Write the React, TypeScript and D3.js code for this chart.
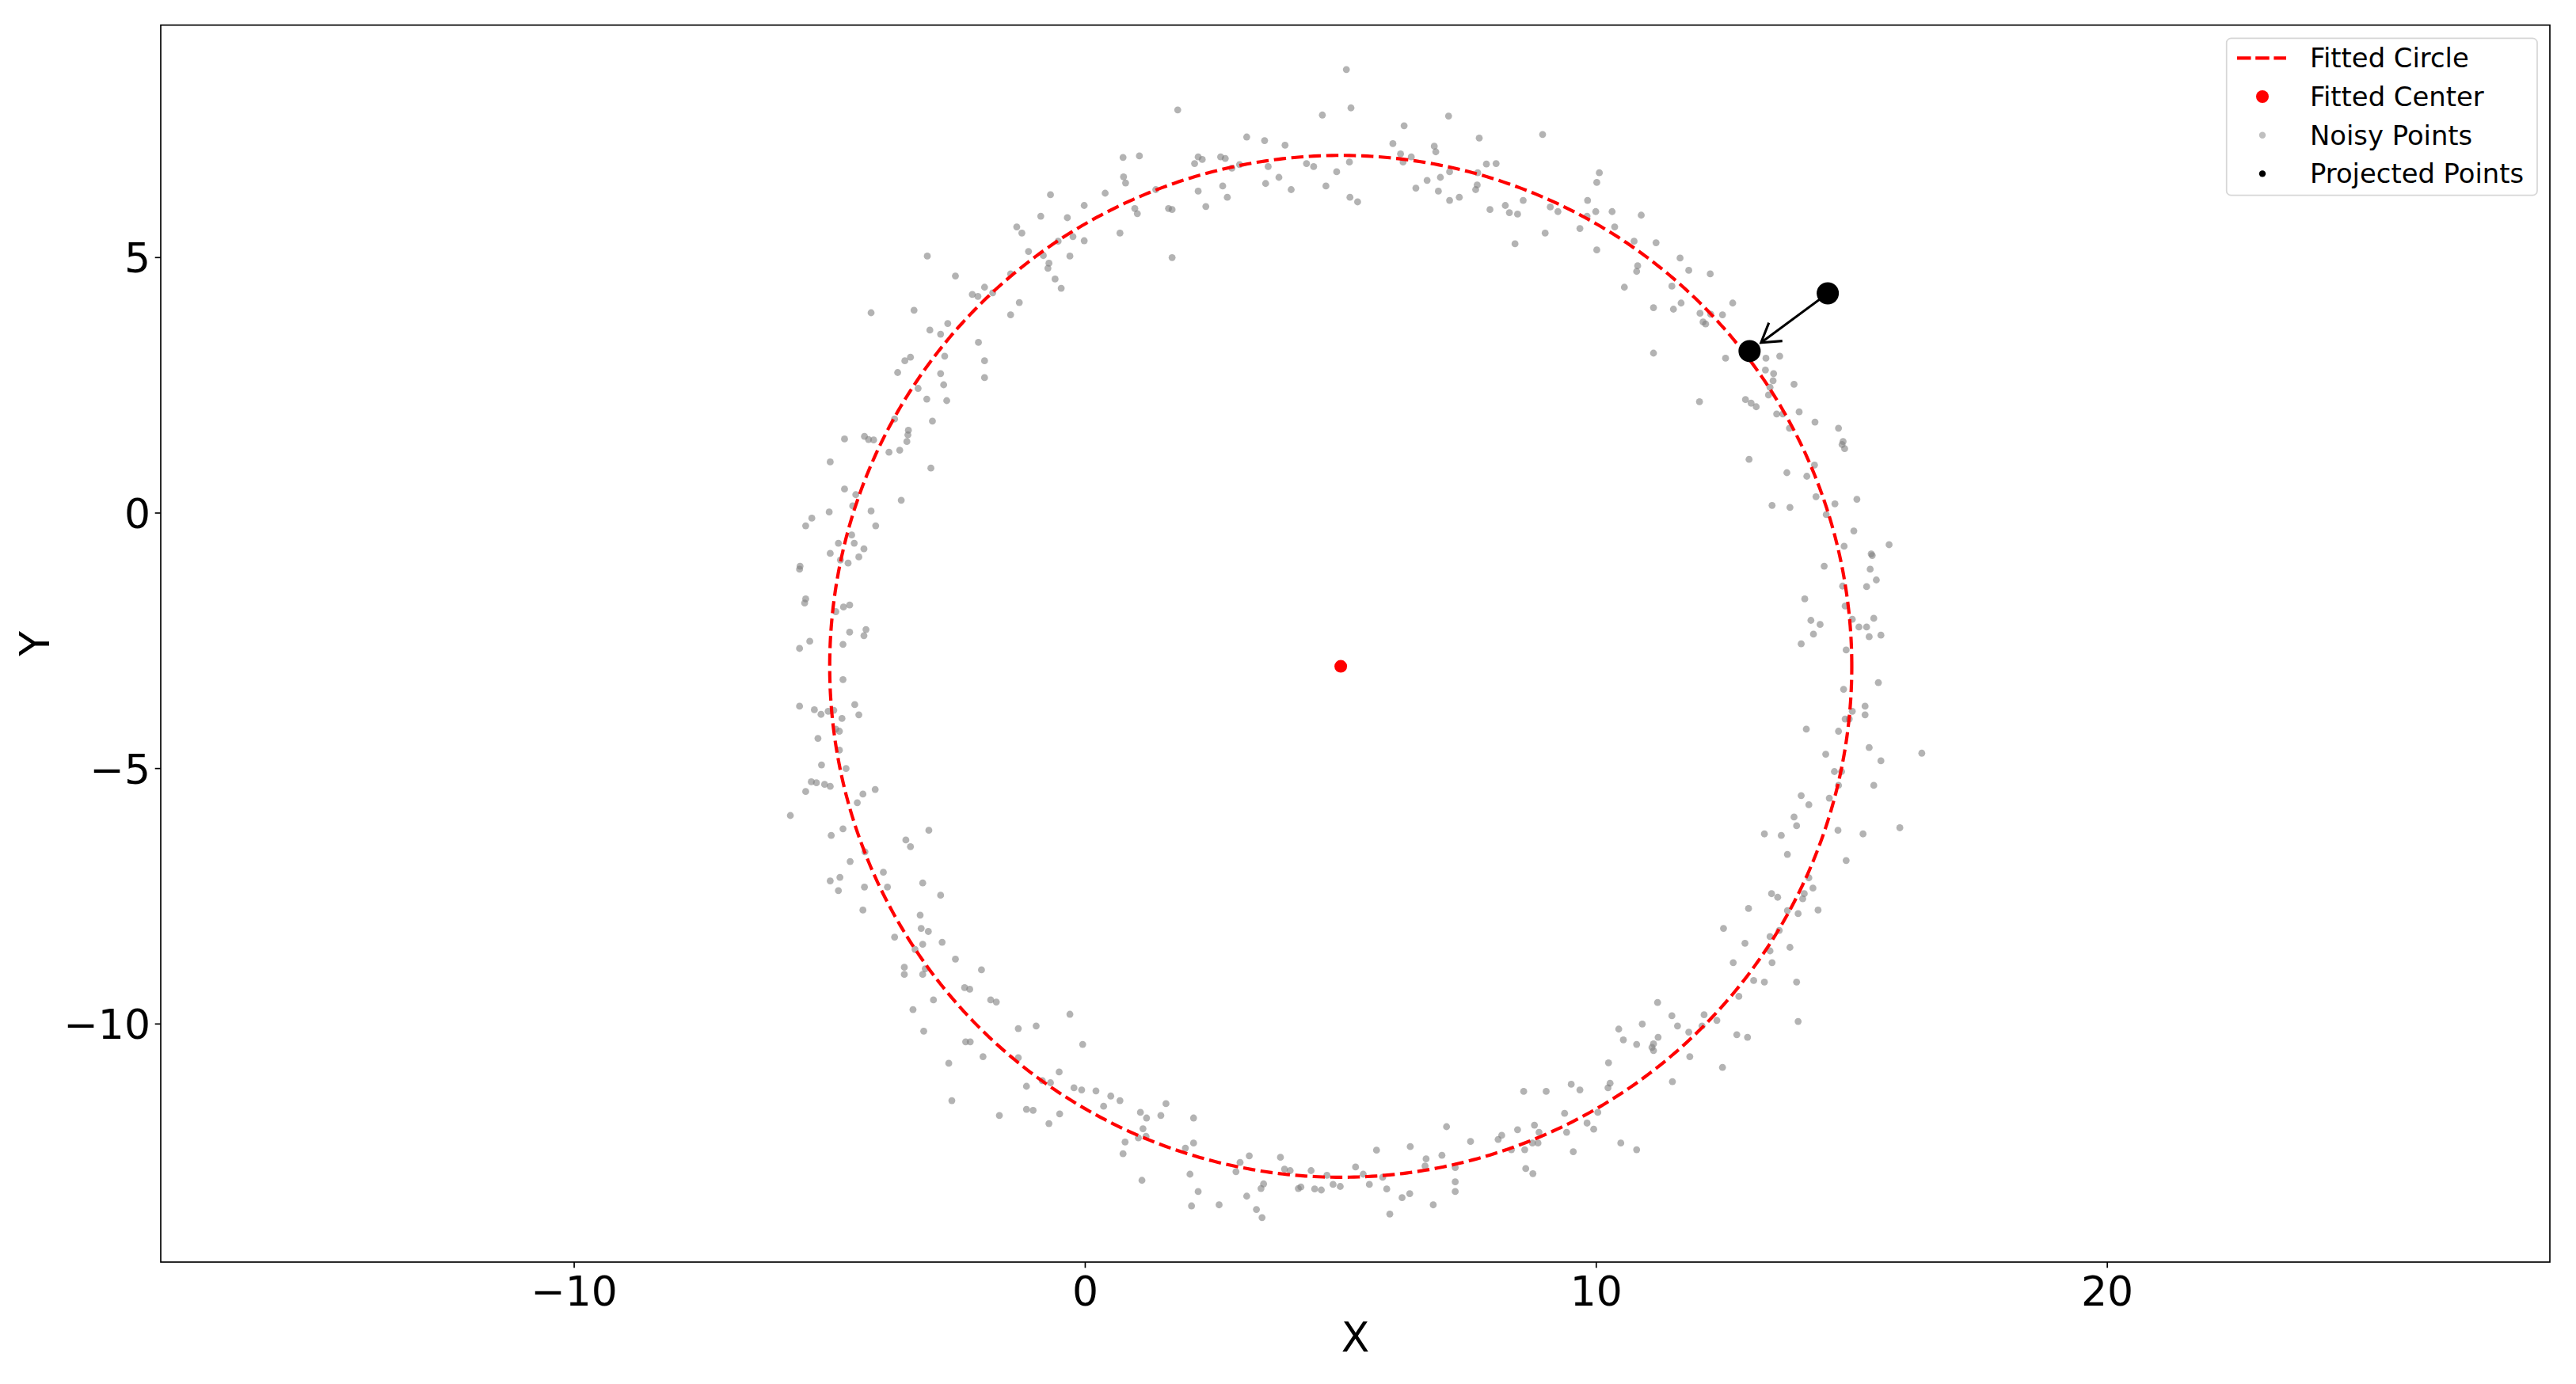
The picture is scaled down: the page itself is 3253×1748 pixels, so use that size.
import React from 'react';
import * as d3 from 'd3';

// ---------------- data ----------------
const xDomain = [-18.09, 28.66];
const yDomain = [-14.66, 9.55];
const xTicks = [-10, 0, 10, 20];
const yTicks = [-10, -5, 0, 5];
const xLabel = 'X';
const yLabel = 'Y';
const legendLabels = ['Fitted Circle', 'Fitted Center', 'Noisy Points', 'Projected Points'];

const fittedCenter = [5.0, -3.0];
const fittedRadius = 10.0;
const outlierPoint = [14.53, 4.3];
const projectedPoint = [13.0, 3.17];

const noisyUpperLeft = [
  [4.64,7.79],[1.81,7.89],[3.16,7.36],[3.51,7.29],[3.91,7.2],[0.74,6.96],[1.06,6.99],[2.21,6.97],[2.29,6.92],[2.14,6.84],[2.65,6.97],[2.74,6.94],[2.87,6.75],[3.02,6.82],[3.58,6.78],[4.33,6.84],[4.47,6.78],[4.92,6.68],[3.79,6.57],[3.53,6.45],[4.03,6.33],[4.71,6.4],[0.75,6.58],[0.79,6.46],[0.39,6.26],[-0.68,6.23],[1.38,6.33],[2.21,6.3],[2.69,6.4],[2.78,6.18],[2.36,6.0],[0.97,5.96],[1.02,5.86],[1.63,5.96],[1.7,5.94],[-0.02,6.02],[-0.35,5.78],[-0.87,5.81],[-1.34,5.6],[-1.24,5.48],[-0.24,5.41],[-0.02,5.33],[0.68,5.48],[-0.53,5.32],[1.7,5.0],[-1.11,5.12],[-0.82,5.04],[-0.3,5.03],[-0.71,4.89],[-0.73,4.79],[-0.59,4.58],[-0.47,4.4],[-1.46,4.68],[-3.09,5.03],[-2.54,4.64],[-1.97,4.42],[-2.21,4.28],[-2.1,4.24],[-1.81,4.31],[-1.29,4.12],[-1.46,3.88],[-4.19,3.92],[-3.35,3.97],[-2.69,3.71],[-3.04,3.58],[-2.83,3.5],[-2.09,3.34],[-2.75,3.07],[-3.42,3.05],[-3.53,2.98],[-1.97,2.98],[-3.67,2.75],[-2.83,2.73],[-1.97,2.65],[-2.77,2.51],[-3.27,2.44],[-3.1,2.23],[-2.71,2.2],[-2.99,1.8],[-3.73,1.84],[-3.46,1.62],[-3.47,1.53],[-3.49,1.4],[-4.32,1.5],[-4.24,1.44],[-4.14,1.43],[-4.71,1.45],[-3.84,1.19],[-3.63,1.23],[-3.02,0.88],[-4.99,1.0],[-4.71,0.47],[-4.49,0.36],[-3.6,0.25],[-4.55,0.14],[-4.19,0.04],[-5.01,0.02],[-5.35,-0.1],[-5.47,-0.25],[-4.1,-0.25],[-4.57,-0.43],[-4.83,-0.59],[-4.52,-0.59],[-4.33,-0.7],[-4.99,-0.79],[-4.43,-0.86],[-4.79,-0.92],[-4.64,-0.98],[-5.58,-1.04],[-5.59,-1.1],[-5.47,-1.68],[-5.49,-1.76],[-4.61,-1.8],[-4.73,-1.84],[-4.88,-1.93]
];

const noisyUpperRight = [
  [5.11,8.68],[5.2,7.93],[7.11,7.77],[6.24,7.58],[7.71,7.34],[8.95,7.41],[6.02,7.23],[6.83,7.18],[6.86,7.07],[6.17,7.03],[6.38,6.97],[5.17,6.87],[6.22,6.87],[7.85,6.83],[8.04,6.84],[7.13,6.68],[7.68,6.66],[10.06,6.66],[6.95,6.57],[6.69,6.51],[10.01,6.47],[7.67,6.42],[7.64,6.33],[6.47,6.36],[6.91,6.3],[5.18,6.18],[5.33,6.09],[7.13,6.12],[7.32,6.18],[9.83,6.12],[8.57,6.12],[8.22,6.02],[7.92,5.94],[8.3,5.88],[8.46,5.85],[9.1,5.99],[9.25,5.9],[9.99,5.9],[10.31,5.9],[9.82,5.81],[10.88,5.83],[10.36,5.6],[9.68,5.57],[9.0,5.48],[8.41,5.27],[10.74,5.32],[11.17,5.29],[10.01,5.15],[11.64,4.99],[11.81,4.75],[12.23,4.68],[10.81,4.84],[10.79,4.73],[11.48,4.44],[10.55,4.42],[11.12,4.02],[11.51,3.99],[11.66,4.11],[12.67,4.11],[12.03,3.91],[12.24,3.89],[12.47,3.88],[12.09,3.74],[12.14,3.7],[11.12,3.13],[12.53,3.03],[13.32,3.03],[13.59,3.07],[13.31,2.8],[13.47,2.73],[13.46,2.59],[13.4,2.46],[13.87,2.52],[13.37,2.31],[12.02,2.18],[12.92,2.22],[13.03,2.15],[13.13,2.08],[13.53,1.94],[13.65,1.94],[13.97,1.98],[14.28,1.78],[14.74,1.66],[14.83,1.4],[14.81,1.34],[14.86,1.26],[13.78,1.66],[12.99,1.05],[14.27,0.94],[13.73,0.79],[14.12,0.72],[14.3,0.32],[15.1,0.27],[14.67,0.18],[13.44,0.15],[13.79,0.11],[14.5,-0.03],[15.04,-0.35],[14.85,-0.65],[15.73,-0.62],[15.38,-0.8],[15.4,-0.83],[15.36,-1.1],[14.46,-1.04],[15.48,-1.31],[15.29,-1.44],[14.82,-1.43],[14.08,-1.68],[14.87,-1.82],[15.01,-2.08],[14.2,-2.1],[14.38,-2.18],[15.43,-2.06]
];

const noisyLowerLeft = [
  [-4.61,-2.33],[-4.29,-2.28],[-4.33,-2.4],[-5.39,-2.51],[-5.59,-2.65],[-4.74,-2.57],[-4.74,-3.26],[-5.59,-3.78],[-5.3,-3.85],[-5.17,-3.94],[-5.03,-3.88],[-4.92,-3.86],[-4.51,-3.75],[-4.43,-3.95],[-4.76,-4.02],[-4.88,-4.23],[-4.81,-4.27],[-5.23,-4.41],[-4.81,-4.64],[-5.16,-4.93],[-4.68,-5.0],[-5.36,-5.26],[-5.26,-5.28],[-5.1,-5.31],[-4.99,-5.35],[-5.47,-5.45],[-4.35,-5.5],[-4.11,-5.41],[-4.46,-5.67],[-5.77,-5.92],[-4.74,-6.18],[-4.97,-6.31],[-3.06,-6.21],[-3.51,-6.4],[-3.42,-6.53],[-4.31,-6.63],[-4.6,-6.82],[-3.95,-7.03],[-4.99,-7.2],[-4.8,-7.13],[-4.83,-7.39],[-4.32,-7.32],[-3.87,-7.32],[-3.18,-7.24],[-2.83,-7.48],[-4.35,-7.77],[-3.23,-7.87],[-3.21,-8.13],[-3.07,-8.19],[-3.73,-8.3],[-3.18,-8.44],[-2.8,-8.4],[-3.33,-8.54],[-2.54,-8.73],[-2.03,-8.94],[-3.54,-8.89],[-3.54,-9.03],[-3.13,-8.92],[-3.18,-9.03],[-2.36,-9.29],[-2.26,-9.32],[-1.85,-9.53],[-1.74,-9.57],[-2.97,-9.53],[-3.37,-9.72],[-3.16,-10.14],[-1.31,-10.09],[-0.96,-10.04],[-0.3,-9.81],[-2.34,-10.35],[-2.25,-10.35],[-0.05,-10.4],[-2.0,-10.64],[-1.31,-10.66],[-2.67,-10.77],[-0.51,-10.94],[-0.84,-11.11],[-0.68,-11.15],[-1.15,-11.22],[-0.22,-11.25],[-0.07,-11.29],[0.21,-11.31],[0.5,-11.41],[0.68,-11.5],[-2.61,-11.5],[1.58,-11.56],[-1.68,-11.79],[-1.15,-11.67],[-1.02,-11.69],[-0.5,-11.76],[-0.71,-11.95],[0.36,-11.61],[1.08,-11.73],[1.2,-11.84],[1.48,-11.79],[2.12,-11.84],[1.13,-12.05],[1.04,-12.23],[1.19,-12.2],[0.78,-12.31],[0.74,-12.54],[2.12,-12.33],[1.96,-12.43],[1.11,-13.06],[2.05,-12.94],[2.21,-13.28],[2.08,-13.56],[2.62,-13.54],[3.03,-12.71],[3.21,-12.58],[2.95,-12.89],[3.82,-12.61],[3.9,-12.84],[4.01,-12.87],[4.42,-12.87],[4.73,-12.96],[3.49,-13.13],[3.44,-13.22],[3.16,-13.37],[3.35,-13.63],[3.46,-13.79],[4.17,-13.22],[4.22,-13.19],[4.49,-13.23],[4.62,-13.25],[4.85,-13.14],[4.99,-13.18]
];

const noisyLowerRight = [
  [14.01,-2.56],[14.25,-2.37],[15.14,-2.23],[15.29,-2.23],[15.34,-2.42],[15.57,-2.39],[14.89,-2.68],[15.52,-3.32],[14.84,-3.45],[15.26,-3.78],[15.26,-3.95],[15.01,-3.88],[14.87,-4.03],[14.95,-4.03],[14.11,-4.23],[14.74,-4.27],[16.37,-4.7],[15.34,-4.59],[14.49,-4.72],[15.57,-4.85],[14.66,-5.06],[14.8,-5.06],[14.74,-5.33],[15.43,-5.33],[14.01,-5.53],[14.56,-5.58],[14.16,-5.71],[13.87,-5.95],[13.92,-6.12],[14.73,-6.21],[15.22,-6.28],[15.94,-6.16],[13.29,-6.28],[13.62,-6.31],[13.74,-6.68],[14.89,-6.8],[14.16,-7.14],[14.24,-7.34],[13.43,-7.45],[13.55,-7.52],[14.07,-7.45],[14.04,-7.55],[12.98,-7.74],[14.34,-7.77],[13.95,-7.84],[13.74,-7.78],[12.49,-8.13],[13.58,-8.17],[13.4,-8.29],[12.91,-8.42],[13.79,-8.5],[13.4,-8.57],[12.68,-8.8],[13.44,-8.8],[13.08,-9.15],[13.29,-9.18],[13.92,-9.18],[12.79,-9.46],[11.2,-9.58],[11.48,-9.84],[12.11,-9.82],[12.36,-9.93],[11.59,-10.04],[10.9,-10.0],[10.44,-10.1],[10.53,-10.31],[10.79,-10.4],[11.21,-10.26],[11.12,-10.39],[11.09,-10.46],[11.12,-10.52],[11.81,-10.16],[12.07,-10.04],[12.75,-10.21],[12.96,-10.26],[13.95,-9.95],[11.83,-10.64],[12.47,-10.85],[10.24,-10.76],[11.49,-11.13],[10.27,-11.16],[10.23,-11.25],[9.51,-11.18],[9.68,-11.29],[8.58,-11.32],[9.02,-11.32],[10.03,-11.73],[9.38,-11.75],[9.82,-11.94],[9.95,-12.06],[9.42,-12.12],[9.55,-12.5],[10.48,-12.33],[10.79,-12.46],[8.88,-12.12],[8.79,-11.98],[8.75,-12.33],[8.86,-12.33],[8.46,-12.07],[8.15,-12.18],[8.08,-12.26],[8.6,-12.46],[8.34,-12.46],[8.62,-12.83],[8.76,-12.93],[7.54,-12.3],[7.07,-12.01],[6.98,-12.57],[7.24,-12.81],[7.24,-13.09],[7.24,-13.28],[6.67,-12.64],[6.65,-12.78],[6.36,-12.4],[6.81,-13.54],[6.35,-13.32],[6.2,-13.4],[5.96,-13.72],[5.7,-12.47],[5.82,-13.0],[5.9,-13.23],[5.56,-13.14],[5.44,-12.94],[5.29,-12.8]
];

// ---------------- layout ----------------
const WIDTH = 3253;
const HEIGHT = 1748;
const plot = { left: 203, right: 3220, top: 31.7, bottom: 1594 };
const FONT = "'DejaVu Sans', sans-serif";
const TICK_FONT = 52;
const LEGEND_FONT = 33.8;

export default function App() {
  const x = d3.scaleLinear().domain(xDomain).range([plot.left, plot.right]);
  const y = d3.scaleLinear().domain(yDomain).range([plot.bottom, plot.top]);
  const fmt = d3.format('d');

  const noisy = [...noisyUpperLeft, ...noisyUpperRight, ...noisyLowerLeft, ...noisyLowerRight];

  const angles = d3.range(0, 360.5, 0.5).map((a) => (a * Math.PI) / 180);
  const circlePath = d3
    .line<number>()
    .x((a) => x(fittedCenter[0] + fittedRadius * Math.cos(a)))
    .y((a) => y(fittedCenter[1] + fittedRadius * Math.sin(a)))(angles) as string;

  // arrow from outlier to projected point
  const sx = x(outlierPoint[0]);
  const sy = y(outlierPoint[1]);
  const tx = x(projectedPoint[0]);
  const ty = y(projectedPoint[1]);
  const dx = sx - tx;
  const dy = sy - ty;
  const len = Math.hypot(dx, dy);
  const ux = dx / len;
  const uy = dy / len;
  const tipX = tx + ux * 18;
  const tipY = ty + uy * 18;
  const headLen = 27;
  const headAng = (32 * Math.PI) / 180;
  const rot = (vx: number, vy: number, ang: number) => [
    vx * Math.cos(ang) - vy * Math.sin(ang),
    vx * Math.sin(ang) + vy * Math.cos(ang),
  ];
  const h1 = rot(ux, uy, headAng);
  const h2 = rot(ux, uy, -headAng);

  const legend = { x: 2811.7, y: 48.3, w: 392.3, h: 198.4 };
  const rowY = (i: number) => legend.y + 25 + i * 48.7;
  const handleX0 = 2825;
  const handleX1 = 2887;
  const handleCx = 2857;
  const textX = 2917;

  return (
    <svg
      width={WIDTH}
      height={HEIGHT}
      style={{ position: 'absolute', left: 0, top: 0, background: '#fff' }}
      fontFamily={FONT}
    >
      <rect x={0} y={0} width={WIDTH} height={HEIGHT} fill="#fff" />
      <defs>
        <clipPath id="plotClip">
          <rect x={plot.left} y={plot.top} width={plot.right - plot.left} height={plot.bottom - plot.top} />
        </clipPath>
      </defs>

      <g clipPath="url(#plotClip)">
        {noisy.map((p, i) => (
          <circle key={i} cx={x(p[0])} cy={y(p[1])} r={4.4} fill="#808080" fillOpacity={0.6} />
        ))}
        <path d={circlePath} fill="none" stroke="#ff0000" strokeWidth={4.17} strokeDasharray="15.4 6.7" />
        <circle cx={x(fittedCenter[0])} cy={y(fittedCenter[1])} r={8} fill="#ff0000" />
        <circle cx={sx} cy={sy} r={14} fill="#000" />
        <circle cx={tx} cy={ty} r={14} fill="#000" />
        <line x1={sx} y1={sy} x2={tipX} y2={tipY} stroke="#000" strokeWidth={3.1} />
        <polyline
          points={`${tipX + h1[0] * headLen},${tipY + h1[1] * headLen} ${tipX},${tipY} ${tipX + h2[0] * headLen},${tipY + h2[1] * headLen}`}
          fill="none"
          stroke="#000"
          strokeWidth={3.1}
        />
      </g>

      {/* frame */}
      <rect
        x={plot.left}
        y={plot.top}
        width={plot.right - plot.left}
        height={plot.bottom - plot.top}
        fill="none"
        stroke="#000"
        strokeWidth={1.67}
      />

      {/* x ticks */}
      {xTicks.map((t) => (
        <g key={`xt${t}`}>
          <line x1={x(t)} x2={x(t)} y1={plot.bottom} y2={plot.bottom + 7.3} stroke="#000" strokeWidth={1.67} />
          <text x={x(t)} y={1649} textAnchor="middle" fontSize={TICK_FONT} fill="#000">
            {fmt(t)}
          </text>
        </g>
      ))}

      {/* y ticks */}
      {yTicks.map((t) => (
        <g key={`yt${t}`}>
          <line x1={plot.left - 7.3} x2={plot.left} y1={y(t)} y2={y(t)} stroke="#000" strokeWidth={1.67} />
          <text x={190} y={y(t) + 19} textAnchor="end" fontSize={TICK_FONT} fill="#000">
            {fmt(t)}
          </text>
        </g>
      ))}

      {/* axis labels */}
      <text x={(plot.left + plot.right) / 2} y={1707} textAnchor="middle" fontSize={TICK_FONT} fill="#000">
        {xLabel}
      </text>
      <text
        transform={`translate(61.7, ${(plot.top + plot.bottom) / 2}) rotate(-90)`}
        textAnchor="middle"
        fontSize={TICK_FONT}
        fill="#000"
      >
        {yLabel}
      </text>

      {/* legend */}
      <rect
        x={legend.x}
        y={legend.y}
        width={legend.w}
        height={legend.h}
        rx={5.8}
        ry={5.8}
        fill="#fff"
        fillOpacity={0.8}
        stroke="#d6d6d6"
        strokeWidth={1.7}
      />
      <line
        x1={handleX0}
        x2={handleX1}
        y1={rowY(0)}
        y2={rowY(0)}
        stroke="#ff0000"
        strokeWidth={4.17}
        strokeDasharray="17.5 5.7"
      />
      <circle cx={handleCx} cy={rowY(1)} r={8} fill="#ff0000" />
      <circle cx={handleCx} cy={rowY(2)} r={4.2} fill="#808080" fillOpacity={0.5} />
      <circle cx={handleCx} cy={rowY(3)} r={4.2} fill="#000" />
      {legendLabels.map((l, i) => (
        <text key={l} x={textX} y={rowY(i) + 12} fontSize={LEGEND_FONT} fill="#000">
          {l}
        </text>
      ))}
    </svg>
  );
}
